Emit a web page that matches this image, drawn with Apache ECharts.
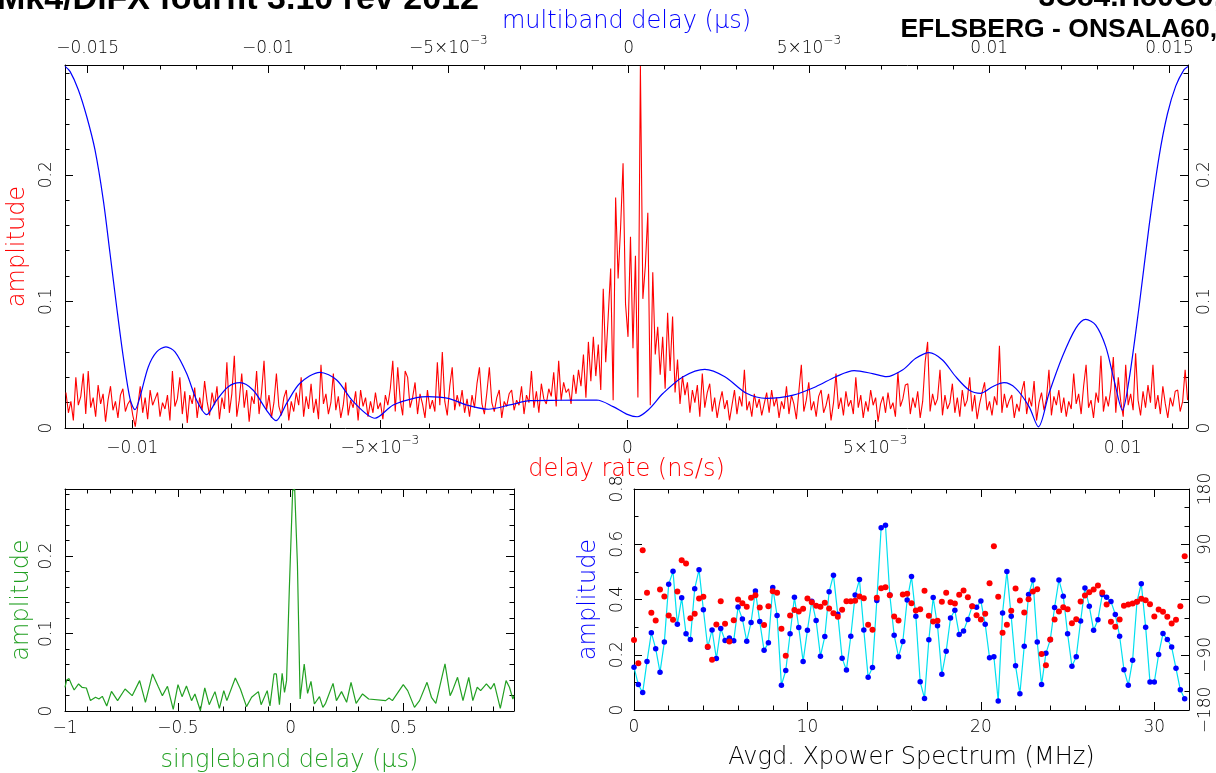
<!DOCTYPE html>
<html><head><meta charset="utf-8">
<script src="https://cdn.jsdelivr.net/npm/echarts/dist/echarts.min.js"></script>
<style>html,body{margin:0;padding:0;background:#fff;}#c{width:1216px;height:773px;}</style>
</head><body><div id="c"></div>
<script>
// ---- delay-rate spectrum (main panel, red), uniform bins in ns/s ----
const rateStart = -0.01134;
const rateStep = 0.00005;
const rateAmp = [
0.028,0.012,0.021,0.006,0.040,0.018,0.025,0.043,0.011,0.045,0.016,0.024,0.009,0.034,0.019,0.027,0.005,0.022,0.033,0.014,
0.021,0.008,0.026,0.031,0.013,0.019,0.022,0.010,0.001,0.017,0.033,0.012,0.024,0.007,0.030,0.018,0.023,0.028,0.009,0.020,
0.015,0.026,0.006,0.045,0.017,0.023,0.040,0.011,0.029,0.004,0.026,0.019,0.032,0.008,0.024,0.014,0.037,0.021,0.010,0.028,
0.018,0.033,0.007,0.024,0.015,0.052,0.012,0.027,0.057,0.009,0.022,0.043,0.016,0.030,0.005,0.025,0.019,0.045,0.011,0.028,
0.053,0.014,0.026,0.008,0.020,0.043,0.017,0.010,0.024,0.030,0.006,0.021,0.013,0.028,0.018,0.040,0.009,0.025,0.015,0.035,
0.012,0.023,0.007,0.050,0.019,0.027,0.011,0.020,0.043,0.014,0.025,0.008,0.018,0.036,0.010,0.022,0.016,0.029,0.006,0.030,
0.017,0.024,0.009,0.021,0.012,0.028,0.015,0.020,0.007,0.026,0.018,0.031,0.053,0.013,0.048,0.022,0.010,0.045,0.040,0.016,
0.024,0.036,0.011,0.027,0.019,0.008,0.030,0.015,0.022,0.013,0.052,0.018,0.060,0.021,0.010,0.033,0.048,0.014,0.026,0.017,
0.030,0.012,0.023,0.009,0.026,0.016,0.035,0.048,0.019,0.011,0.028,0.048,0.020,0.013,0.024,0.030,0.008,0.021,0.017,0.027,
0.030,0.014,0.022,0.018,0.033,0.011,0.026,0.020,0.045,0.016,0.029,0.012,0.035,0.023,0.019,0.031,0.025,0.044,0.017,0.053,
0.022,0.036,0.028,0.031,0.019,0.042,0.027,0.046,0.033,0.058,0.024,0.068,0.037,0.072,0.041,0.066,0.030,0.110,0.052,0.088,
0.126,0.022,0.182,0.118,0.158,0.209,0.098,0.072,0.151,0.063,0.136,0.024,0.286,0.102,0.128,0.170,0.018,0.123,0.058,0.080,
0.042,0.072,0.031,0.091,0.045,0.088,0.028,0.054,0.019,0.041,0.026,0.036,0.012,0.030,0.020,0.034,0.009,0.043,0.016,0.028,
0.035,0.013,0.024,0.008,0.020,0.029,0.015,0.022,0.006,0.018,0.030,0.011,0.025,0.017,0.046,0.014,0.021,0.009,0.027,0.016,
0.023,0.010,0.019,0.028,0.012,0.030,0.017,0.024,0.008,0.021,0.015,0.033,0.011,0.026,0.019,0.007,0.029,0.050,0.013,0.022,
0.036,0.014,0.021,0.009,0.025,0.030,0.012,0.018,0.027,0.006,0.020,0.043,0.015,0.024,0.010,0.029,0.017,0.022,0.011,0.040,
0.016,0.026,0.008,0.021,0.013,0.030,0.018,0.024,0.005,0.019,0.025,0.012,0.028,0.015,0.020,0.009,0.044,0.017,0.023,0.034,
0.035,0.011,0.024,0.016,0.029,0.008,0.021,0.052,0.068,0.013,0.027,0.018,0.023,0.046,0.010,0.026,0.015,0.020,0.035,0.012,
0.024,0.009,0.030,0.017,0.022,0.040,0.013,0.026,0.007,0.019,0.028,0.036,0.014,0.021,0.010,0.025,0.018,0.065,0.012,0.027,
0.016,0.022,0.026,0.008,0.019,0.013,0.029,0.037,0.011,0.024,0.017,0.037,0.006,0.020,0.028,0.014,0.023,0.046,0.010,0.025,
0.018,0.030,0.012,0.024,0.009,0.021,0.015,0.043,0.019,0.027,0.011,0.033,0.050,0.016,0.022,0.008,0.028,0.020,0.057,0.013,
0.025,0.017,0.031,0.056,0.012,0.040,0.021,0.009,0.050,0.018,0.027,0.014,0.059,0.022,0.010,0.029,0.016,0.034,0.020,0.050,
0.015,0.026,0.011,0.033,0.019,0.008,0.024,0.017,0.029,0.030,0.013,0.021,0.046,0.022
];

// ---- multiband delay function (main panel, blue) : vertices ----
const mbdDelay = [
-0.015628,-0.015489,-0.015259,-0.015026,-0.014796,-0.014566,-0.014380,-0.014195,-0.014012,-0.013826,
-0.013687,-0.013549,-0.013319,-0.013086,-0.012828,-0.012578,-0.012254,-0.011977,-0.011700,-0.011422,
-0.011101,-0.010776,-0.010408,-0.010036,-0.009778,-0.009482,-0.009113,-0.008558,-0.008095,-0.007635,
-0.007034,-0.006526,-0.005878,-0.005556,-0.005001,-0.004491,-0.003892,-0.003291,-0.002736,-0.001905,
-0.000887,-0.000427,-0.000055,0.000238,0.000543,0.000959,0.001514,0.002115,0.002670,0.003271,
0.003826,0.004563,0.005193,0.005747,0.006255,0.006765,0.007153,0.007596,0.007965,0.008334,
0.008705,0.009074,0.009443,0.009767,0.010092,0.010413,0.010737,0.011106,0.011367,0.011661,
0.012032,0.012401,0.012678,0.012955,0.013233,0.013463,0.013696,0.013879,0.014156,0.014433,
0.014710,0.014943,0.015173,0.015404,0.015514
];
const mbdAmp = [
0.2856,0.2817,0.2672,0.2460,0.2196,0.1800,0.1380,0.0956,0.0561,0.0232,
0.0145,0.0245,0.0482,0.0601,0.0640,0.0601,0.0430,0.0219,0.0106,0.0220,
0.0326,0.0358,0.0298,0.0140,0.0058,0.0195,0.0353,0.0440,0.0379,0.0208,
0.0077,0.0182,0.0240,0.0248,0.0234,0.0182,0.0148,0.0182,0.0216,0.0219,
0.0221,0.0169,0.0110,0.0089,0.0142,0.0274,0.0405,0.0463,0.0405,0.0274,
0.0234,0.0260,0.0326,0.0405,0.0453,0.0430,0.0405,0.0458,0.0550,0.0595,
0.0537,0.0405,0.0300,0.0274,0.0326,0.0358,0.0313,0.0169,0.0009,0.0274,
0.0564,0.0787,0.0858,0.0813,0.0643,0.0380,0.0140,0.0380,0.0956,0.1590,
0.2140,0.2480,0.2700,0.2830,0.2856
];

// ---- singleband delay function (bottom left, green) ----
const sbdDelay = [
-1.0,-0.9925,-0.982,-0.9707,-0.9594,-0.9398,-0.9248,-0.9053,-0.8872,-0.8647,
-0.8496,-0.8346,-0.815,-0.794,-0.7669,-0.7338,-0.7023,-0.6692,-0.6436,-0.612,
-0.5865,-0.5684,-0.5459,-0.5203,-0.4992,-0.4812,-0.4617,-0.4391,-0.4241,-0.4,
-0.3805,-0.3609,-0.3353,-0.3158,-0.2962,-0.2827,-0.2451,-0.2226,-0.1955,-0.1729,
-0.1429,-0.1308,-0.1038,-0.0917,-0.0737,-0.0632,-0.0496,-0.0376,-0.0271,-0.018,
-0.006,0.009,0.018,0.0301,0.0421,0.0602,0.0752,0.0902,0.1053,0.1278,
0.1429,0.1549,0.188,0.203,0.2256,0.2481,0.2677,0.2902,0.3188,0.3459,
0.4211,0.4361,0.4511,0.4992,0.5188,0.5489,0.5714,0.6045,0.6241,0.6436,
0.6842,0.7068,0.7173,0.7398,0.7639,0.7895,0.8075,0.8271,0.8421,0.8677,
0.8872,0.9023,0.9293,0.9549,0.9699,0.985,0.99
];
const sbdAmp = [
0.0306,0.0401,0.0418,0.034,0.0271,0.0349,0.0306,0.0297,0.0134,0.0177,
0.0155,0.0189,0.0065,0.0254,0.0134,0.0284,0.0198,0.0392,0.0112,0.0478,
0.0314,0.0198,0.0319,0.0022,0.034,0.0185,0.0323,0.0134,0.022,0.0004,
0.0297,0.0082,0.025,0.0034,0.0263,0.0134,0.0426,0.0284,0.0056,0.0177,
0.025,0.0082,0.0263,0.0065,0.0478,0.0478,0.0082,0.0487,0.0241,0.0392,
0.1555,0.2847,0.286,0.1899,0.0155,0.0607,0.0228,0.0383,0.009,0.0185,
0.0047,0.0099,0.0357,0.0134,0.025,0.0112,0.037,0.0099,0.022,0.0155,
0.0134,0.0168,0.0134,0.034,0.0263,0.0047,0.0134,0.037,0.0177,0.0099,
0.0607,0.0198,0.0263,0.0435,0.0134,0.0435,0.0134,0.0306,0.0263,0.0349,
0.0284,0.0357,0.0034,0.0392,0.0306,0.0155,0.0198
];

// ---- averaged cross-power spectrum (bottom right) ----
const chanStep = 0.25; // MHz per spectral point
const xpAmp = [
0.155,0.092,0.063,0.176,0.280,0.222,0.137,0.246,0.455,0.502,
0.310,0.406,0.276,0.255,0.439,0.508,0.363,0.227,0.290,0.186,
0.295,0.252,0.261,0.251,0.373,0.329,0.249,0.317,0.431,0.320,
0.216,0.243,0.443,0.342,0.090,0.143,0.276,0.408,0.299,0.176,
0.289,0.394,0.324,0.195,0.266,0.428,0.488,0.347,0.187,0.145,
0.267,0.416,0.472,0.290,0.119,0.154,0.396,0.660,0.669,0.416,
0.271,0.193,0.248,0.398,0.483,0.339,0.102,0.042,0.254,0.407,
0.305,0.129,0.213,0.333,0.361,0.273,0.286,0.328,0.376,0.372,
0.395,0.310,0.189,0.193,0.033,0.351,0.501,0.339,0.160,0.059,
0.231,0.418,0.471,0.246,0.092,0.205,0.254,0.371,0.471,0.412,
0.276,0.158,0.193,0.322,0.442,0.376,0.289,0.327,0.418,0.408,
0.393,0.346,0.267,0.146,0.090,0.180,0.392,0.457,0.300,0.101,
0.101,0.201,0.277,0.255,0.228,0.151,0.073,0.041
];
const xpPhase = [
-66.1,-104,80.2,10.8,-21.7,-34.2,16.3,4.9,-26.0,-33.1,
13.0,64.0,58.6,-30.4,-23.3,1.6,4.3,-77.0,-98.1,-40.7,
-2.7,-39.6,-68.3,-33.6,0,-6.0,-11.9,2.7,7.0,-13.0,
-41.7,-10.8,13.6,10.8,-47.7,-91.6,-26.0,-17.3,-19.5,-15.2,
1.6,-4.3,-10.3,-11.9,-5.4,-14.6,-22.2,-28.2,-16.8,-2.7,
-2.7,-2.2,4.9,2.2,-41.2,-49.3,2.7,18.4,20.1,7.0,
-27.6,-34.2,8.1,9.2,-6.0,-17.9,-15.7,14.1,-26.6,-35.8,
-34.7,-3.8,10.8,-4.3,-6.5,7.6,14.6,3.8,-10.8,-25.5,
-32.5,-23.3,26.6,86.7,4.3,-54.2,-41.2,-18.4,17.9,-1.6,
-21.1,0.5,13.0,16.8,-88.9,-107.3,-65.1,-32.5,-19.5,-12.5,
-15.7,-38.5,-32.0,-3.3,6.5,11.9,16.3,22.8,11.4,-8.1,
-36.3,-44.5,-32.5,-10.3,-8.1,-6.5,-3.8,1.1,-1.1,-7.6,
-27.6,-16.3,-20.1,-28.2,-39.0,-33.1,-10.8,70.5
];

// ---- header texts ----
const headLeft = 'Mk4/DiFX fourfit 3.10 rev 2012';
const headRight1 = '3C84.H80G0,';
const headRight2 = 'EFLSBERG - ONSALA60,';

const FF = '"DejaVu Sans", sans-serif';
const FW = 200;
const TICKFS = 17, NAMEFS = 24;

function expLabel(v) {
  const a = Math.abs(v), s = v < -1e-12 ? '\u2212' : '';
  if (a < 1e-12) return '{n|0}';
  if (Math.abs(a - 0.005) < 1e-9) return '{n|' + s + '5\u00d710}{e|\u22123}';
  return '{n|' + s + String(+a.toFixed(4)) + '}';
}
function plainLabel(v) {
  if (Math.abs(v) < 1e-12) return '0';
  const s = v < 0 ? '\u2212' : '';
  return s + String(+Math.abs(v).toFixed(3));
}
const richExp = {
  n: {fontFamily: FF, fontWeight: FW, fontSize: TICKFS, color: '#000', lineHeight: 22, verticalAlign: 'bottom'},
  e: {fontFamily: FF, fontWeight: FW, fontSize: 12, color: '#000', verticalAlign: 'top'}
};
const line = {show: true, onZero: false, lineStyle: {color: '#000', width: 1}};
function tick(len) { return {show: true, inside: true, length: len || 8, lineStyle: {color: '#000', width: 1}}; }
function minor(n) { return {show: true, splitNumber: n, length: 4.5, lineStyle: {color: '#000', width: 1}}; }
const noSplit = {show: false};

function axisName(txt, color, gap, rot) {
  return {name: txt, nameLocation: 'middle', nameGap: gap, nameRotate: rot || 0,
    nameTextStyle: {color: color, fontFamily: FF, fontWeight: FW, fontSize: NAMEFS}};
}

const xAxes = [
  // 0: main bottom, delay rate
  Object.assign({type: 'value', gridIndex: 0, position: 'bottom', min: -0.011359, max: 0.011318, splitNumber: 5,
    axisLine: line, axisTick: tick(), minorTick: minor(5), splitLine: noSplit,
    axisLabel: {formatter: expLabel, rich: richExp, margin: 7, showMinLabel: false, showMaxLabel: false}},
    axisName('delay rate (ns/s)', '#ff0000', 23)),
  // 1: main top, multiband delay
  Object.assign({type: 'value', gridIndex: 0, position: 'top', min: -0.015628, max: 0.015514, splitNumber: 6,
    axisLine: line, axisTick: tick(), minorTick: minor(5), splitLine: noSplit,
    axisLabel: {formatter: expLabel, rich: richExp, margin: 8, showMinLabel: false, showMaxLabel: false}},
    axisName('multiband delay (\u03bcs)', '#0000ff', 30)),
  // 2: singleband bottom
  Object.assign({type: 'value', gridIndex: 1, position: 'bottom', min: -1, max: 0.99, interval: 0.5,
    axisLine: line, axisTick: tick(), minorTick: minor(5), splitLine: noSplit,
    axisLabel: {formatter: plainLabel, margin: 9, fontFamily: FF, fontWeight: FW, fontSize: TICKFS, color: '#000', showMinLabel: true, showMaxLabel: false}},
    axisName('singleband delay (\u03bcs)', '#22a022', 38)),
  // 3: singleband top mirror
  {type: 'value', gridIndex: 1, position: 'top', min: -1, max: 0.99, interval: 0.5,
    axisLine: line, axisTick: tick(), minorTick: minor(5), splitLine: noSplit, axisLabel: {show: false}},
  // 4: xpower bottom
  Object.assign({type: 'value', gridIndex: 2, position: 'bottom', min: 0, max: 32, interval: 10,
    axisLine: line, axisTick: tick(), minorTick: minor(5), splitLine: noSplit,
    axisLabel: {formatter: plainLabel, margin: 9, fontFamily: FF, fontWeight: FW, fontSize: TICKFS, color: '#000', showMinLabel: true, showMaxLabel: false}},
    axisName('Avgd. Xpower Spectrum (MHz)', '#000', 36)),
  // 5: xpower top mirror
  {type: 'value', gridIndex: 2, position: 'top', min: 0, max: 32, interval: 10,
    axisLine: line, axisTick: tick(), minorTick: minor(5), splitLine: noSplit, axisLabel: {show: false}}
];

function yLabel(margin, showMax) {
  return {formatter: plainLabel, rotate: 90, margin: margin, fontFamily: FF, fontWeight: FW, fontSize: TICKFS, color: '#000',
    showMinLabel: true, showMaxLabel: showMax};
}
const yAxes = [
  // 0: main left
  Object.assign({type: 'value', gridIndex: 0, position: 'left', min: 0, max: 0.2867, interval: 0.1,
    axisLine: line, axisTick: tick(), minorTick: minor(5), splitLine: noSplit, axisLabel: yLabel(10, false)},
    axisName('amplitude', '#ff0000', 31, 90)),
  // 1: main right
  {type: 'value', gridIndex: 0, position: 'right', min: 0, max: 0.2867, interval: 0.1,
    axisLine: line, axisTick: tick(), minorTick: minor(5), splitLine: noSplit, axisLabel: yLabel(8, false)},
  // 2: singleband left
  Object.assign({type: 'value', gridIndex: 1, position: 'left', min: 0, max: 0.2865, interval: 0.1,
    axisLine: line, axisTick: tick(), minorTick: minor(5), splitLine: noSplit, axisLabel: yLabel(10, false)},
    axisName('amplitude', '#22a022', 31, 90)),
  // 3: singleband right mirror
  {type: 'value', gridIndex: 1, position: 'right', min: 0, max: 0.2865, interval: 0.1,
    axisLine: line, axisTick: tick(), minorTick: minor(5), splitLine: noSplit, axisLabel: {show: false}},
  // 4: xpower amplitude (left)
  Object.assign({type: 'value', gridIndex: 2, position: 'left', min: 0, max: 0.8, interval: 0.2,
    axisLine: line, axisTick: tick(), minorTick: minor(2), splitLine: noSplit, axisLabel: yLabel(8, true)},
    axisName('amplitude', '#0000ff', 33, 90)),
  // 5: xpower phase (right)
  {type: 'value', gridIndex: 2, position: 'right', min: -180, max: 180, interval: 90,
    axisLine: line, axisTick: tick(), minorTick: minor(3), splitLine: noSplit, axisLabel: yLabel(8, true)}
];

const option = {
  animation: false,
  backgroundColor: '#fff',
  textStyle: {fontFamily: FF},
  grid: [
    {left: 65, top: 65, width: 1123, height: 363, outerBoundsMode: 'none'},
    {left: 65, top: 489, width: 449, height: 222, outerBoundsMode: 'none'},
    {left: 634, top: 489, width: 555, height: 221, outerBoundsMode: 'none'}
  ],
  xAxis: xAxes,
  yAxis: yAxes,
  graphic: [
    {type: 'text', x: -3, y: 0, silent: true,
      style: {text: headLeft, font: 'bold 34px "Liberation Sans"', fill: '#000', align: 'left', verticalAlign: 'middle'}},
    {type: 'text', x: 1222, y: -2, silent: true,
      style: {text: headRight1, font: 'bold 30px "Liberation Sans"', fill: '#000', align: 'right', verticalAlign: 'middle'}},
    {type: 'text', x: 1217, y: 30, silent: true,
      style: {text: headRight2, font: 'bold 26.5px "Liberation Sans"', fill: '#000', align: 'right', verticalAlign: 'middle'}}
  ],
  series: [
    {type: 'line', xAxisIndex: 0, yAxisIndex: 0, symbol: 'none', z: 2,
      data: rateAmp.map((v, i) => [rateStart + i * rateStep, v]),
      lineStyle: {color: '#ff0000', width: 1.1}},
    {type: 'line', xAxisIndex: 1, yAxisIndex: 0, symbol: 'none', smooth: 0.3, z: 3,
      data: mbdDelay.map((d, i) => [d, mbdAmp[i]]),
      lineStyle: {color: '#0000ff', width: 1.2}},
    {type: 'line', xAxisIndex: 2, yAxisIndex: 2, symbol: 'none',
      data: sbdDelay.map((d, i) => [d, sbdAmp[i]]),
      lineStyle: {color: '#22a022', width: 1.2}},
    {type: 'line', xAxisIndex: 4, yAxisIndex: 4, symbol: 'circle', symbolSize: 5.5, showAllSymbol: true,
      data: xpAmp.map((v, i) => [i * chanStep, v]),
      itemStyle: {color: '#0000ff', opacity: 1}, lineStyle: {color: '#00e0f0', width: 1.2}},
    {type: 'scatter', xAxisIndex: 4, yAxisIndex: 5, symbol: 'circle', symbolSize: 6, z: 4,
      data: xpPhase.map((v, i) => [i * chanStep, v]),
      itemStyle: {color: '#ff0000', opacity: 1}}
  ]
};
const chart = echarts.init(document.getElementById('c'), null, {renderer: 'canvas'});
chart.setOption(option);
</script>
</body></html>
